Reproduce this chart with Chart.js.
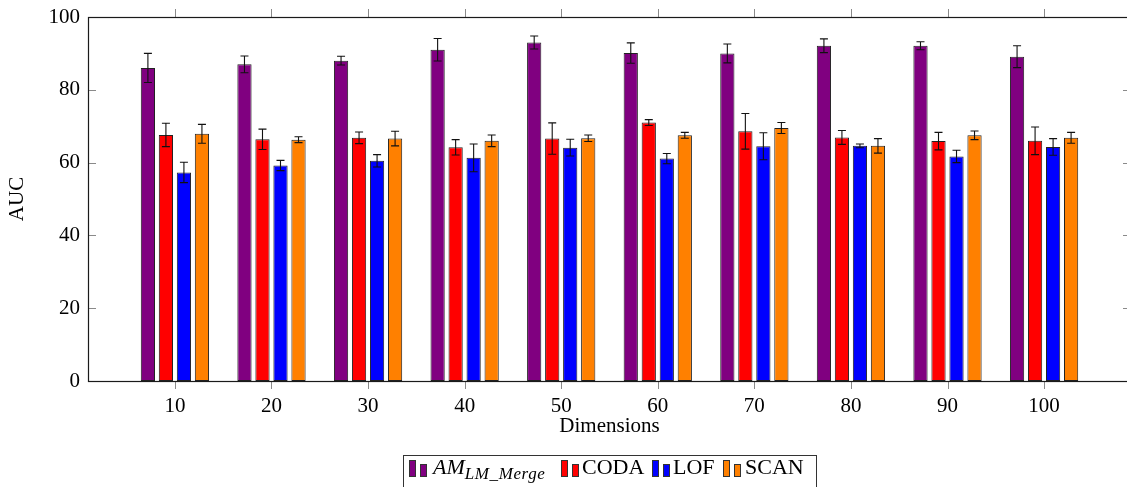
<!DOCTYPE html>
<html>
<head>
<meta charset="utf-8">
<title>AUC by dimensions</title>
<script src="https://cdn.jsdelivr.net/npm/chart.js@4.4.1/dist/chart.umd.min.js"></script>
<style>
  html, body { margin: 0; padding: 0; background: #fff; overflow: hidden; width: 1127px; height: 487px; }
  #wrap { position: absolute; left: 0; top: 0; width: 1136px; height: 487px; }
  #legend {
    position: absolute; left: 403px; top: 455px; width: 414px; height: 40px;
    border: 1px solid #333; background: #fff; box-sizing: border-box;
    font-family: 'Liberation Serif', serif; font-size: 22px; color: #000; white-space: nowrap;
  }
  .icon { position: absolute; top: 4px; height: 17px; }
  .icon span { position: absolute; bottom: 0; display: block; width: 5px; border: 1px solid #333; }
  .icon span:first-child { left: 0; height: 15px; }
  .icon span:last-child { left: 11px; height: 11px; }
  .lbl { position: absolute; top: -1px; line-height: 24px; }
  .lbl i sub { font-size: 17px; vertical-align: -5px; line-height: 0; letter-spacing: 0.6px; }
</style>
</head>
<body>
<div id="wrap"><canvas id="c"></canvas></div>
<div id="legend"></div>
<script>
// Dimensions on the x axis
const dimensions = [10, 20, 30, 40, 50, 60, 70, 80, 90, 100];
const yTicks = [0, 20, 40, 60, 80, 100];

// Mean AUC and its spread per method
const amMean   = [86.0, 87.0, 88.0, 91.0, 93.0, 90.1, 90.0, 92.1, 92.1, 89.1];
const amErr    = [4.0, 2.3, 1.2, 3.1, 1.8, 2.8, 2.6, 1.9, 1.1, 3.0];
const codaMean = [67.6, 66.4, 66.8, 64.2, 66.6, 71.0, 68.6, 66.9, 65.9, 66.0];
const codaErr  = [3.2, 2.8, 1.6, 2.1, 4.3, 0.8, 4.9, 1.9, 2.4, 3.8];
const lofMean  = [57.3, 59.2, 60.5, 61.3, 64.1, 61.1, 64.5, 64.6, 61.7, 64.3];
const lofErr   = [2.8, 1.4, 1.7, 3.8, 2.3, 1.4, 3.7, 0.5, 1.7, 2.3];
const scanMean = [67.9, 66.3, 66.6, 66.0, 66.7, 67.5, 69.5, 64.6, 67.5, 66.8];
const scanErr  = [2.6, 0.8, 2.0, 1.6, 0.9, 0.8, 1.5, 2.0, 1.2, 1.5];

const seriesNames = ['AM_LM_Merge', 'CODA', 'LOF', 'SCAN'];
const seriesColors = ['#800080', '#ff0000', '#0000ff', '#ff8000'];
const seriesMeans = [amMean, codaMean, lofMean, scanMean];
const seriesErrs = [amErr, codaErr, lofErr, scanErr];

const FONT = "'Liberation Serif', 'Times New Roman', serif";
Chart.defaults.font.family = FONT;
Chart.defaults.font.size = 21;
Chart.defaults.color = '#000';

const datasets = seriesNames.map((name, i) => ({
  label: name,
  data: dimensions.map((d, j) => ({ x: d, y: seriesMeans[i][j] })),
  errors: seriesErrs[i],
  backgroundColor: seriesColors[i],
  borderColor: '#222',
  borderWidth: 1,
  borderSkipped: false,
  categoryPercentage: 0.746,
  barPercentage: 0.79
}));

// Error bars, tick marks and the surrounding frame
const framePlugin = {
  id: 'frameAndErrors',
  afterDatasetsDraw(chart) {
    const ctx = chart.ctx;
    const { left, right, top, bottom } = chart.chartArea;
    const xs = chart.scales.x, ys = chart.scales.y;
    ctx.save();

    // error bars
    ctx.strokeStyle = '#111';
    ctx.lineWidth = 1.1;
    chart.data.datasets.forEach((ds, i) => {
      const meta = chart.getDatasetMeta(i);
      meta.data.forEach((bar, j) => {
        const v = ds.data[j].y, e = ds.errors[j];
        const yHi = ys.getPixelForValue(v + e);
        const yLo = ys.getPixelForValue(v - e);
        const x = bar.x;
        ctx.beginPath();
        ctx.moveTo(x, yHi); ctx.lineTo(x, yLo);
        ctx.moveTo(x - 4, yHi); ctx.lineTo(x + 4, yHi);
        ctx.moveTo(x - 4, yLo); ctx.lineTo(x + 4, yLo);
        ctx.stroke();
      });
    });

    // tick marks
    ctx.strokeStyle = '#8a8a8a';
    ctx.lineWidth = 1;
    ctx.beginPath();
    dimensions.forEach(d => {
      const px = Math.round(xs.getPixelForValue(d)) + 0.5;
      ctx.moveTo(px, bottom); ctx.lineTo(px, bottom + 8);
      ctx.moveTo(px, top); ctx.lineTo(px, top - 8);
    });
    yTicks.forEach(t => {
      const py = Math.round(ys.getPixelForValue(t)) + 0.5;
      ctx.moveTo(left, py); ctx.lineTo(left + 8, py);
      ctx.moveTo(right, py); ctx.lineTo(right - 8, py);
    });
    ctx.stroke();

    // frame
    ctx.strokeStyle = '#1a1a1a';
    ctx.lineWidth = 1.2;
    ctx.strokeRect(Math.round(left) + 0.5, Math.round(top) + 0.5,
                   Math.round(right - left), Math.round(bottom - top));
    ctx.restore();
  }
};

new Chart(document.getElementById('c'), {
  type: 'bar',
  data: { datasets },
  options: {
    responsive: true,
    maintainAspectRatio: false,
    animation: false,
    events: [],
    layout: { padding: { left: 0, right: 5, top: 17, bottom: 36 } },
    plugins: { legend: { display: false }, tooltip: { enabled: false } },
    scales: {
      x: {
        type: 'linear',
        offset: false,
        min: 1,
        max: 109,
        afterBuildTicks: s => { s.ticks = dimensions.map(v => ({ value: v })); },
        afterFit: s => { s.height = 70; s.paddingLeft = 0; s.paddingRight = 0; },
        grid: { display: false, drawTicks: false, offset: false },
        border: { display: false },
        ticks: { padding: 13, color: '#000' },
        title: { display: true, text: 'Dimensions', color: '#000', padding: { top: 0, bottom: 12 } }
      },
      y: {
        min: 0,
        max: 100,
        afterBuildTicks: s => { s.ticks = yTicks.map(v => ({ value: v })); },
        afterFit: s => { s.width = 88; s.paddingTop = 0; s.paddingBottom = 0; },
        grid: { display: false, drawTicks: false },
        border: { display: false },
        ticks: { padding: 8, color: '#000' },
        title: { display: true, text: 'AUC', color: '#000', padding: { top: 5, bottom: 0 } }
      }
    }
  },
  plugins: [framePlugin]
});

// Legend with the subscripted method name
const legend = document.getElementById('legend');
const iconLeft = [5, 157, 248, 319];   // relative to legend box
const textLeft = [29, 178, 269, 341];
seriesNames.forEach((name, i) => {
  const icon = document.createElement('div');
  icon.className = 'icon';
  icon.style.left = iconLeft[i] + 'px';
  for (let k = 0; k < 2; k++) {
    const s = document.createElement('span');
    s.style.background = seriesColors[i];
    icon.appendChild(s);
  }
  const lbl = document.createElement('span');
  lbl.className = 'lbl';
  lbl.style.left = textLeft[i] + 'px';
  if (i === 0) {
    lbl.innerHTML = '<i>AM<sub>LM_Merge</sub></i>';
  } else {
    lbl.textContent = name;
  }
  legend.appendChild(icon);
  legend.appendChild(lbl);
});
</script>
</body>
</html>
